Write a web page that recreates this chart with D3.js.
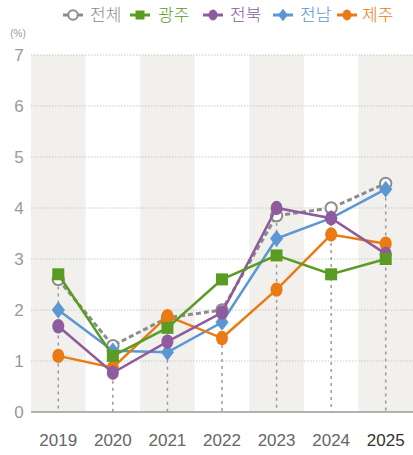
<!DOCTYPE html>
<html><head><meta charset="utf-8">
<script src="https://cdn.jsdelivr.net/npm/d3@7"></script>
<style>body{margin:0;background:#fff}svg{display:block}</style>
</head><body><svg id="c" width="413" height="455"></svg>
<script>
const years = ["2019","2020","2021","2022","2023","2024","2025"];
const yTicks = [0,1,2,3,4,5,6,7];
const seriesNames = ["전체","광주","전북","전남","제주"];
const total   = [2.6, 1.3, 1.85, 2.0, 3.85, 4.0, 4.48];
const gwangju = [2.7, 1.1, 1.65, 2.6, 3.07, 2.7, 3.0];
const jeonbuk = [1.68, 0.77, 1.38, 1.95, 4.0, 3.8, 3.1];
const jeonnam = [2.0, 1.2, 1.17, 1.76, 3.4, 3.8, 4.37];
const jeju    = [1.1, 0.87, 1.88, 1.45, 2.4, 3.48, 3.3];

const colors = ["#8c8c8c","#5a9b24","#8e5b9c","#5b97d3","#ea7b14"];
const shapes = ["open","square","circle","diamond","circle"];
const data = [total,gwangju,jeonbuk,jeonnam,jeju];

(function(){
const svg = d3.select("#c");
const mL = 31, mR = 413, mT = 55, mB = 412;
const x = d3.scaleBand().domain(years).range([mL,mR]).padding(0);
const y = d3.scaleLinear().domain([0,7]).range([mB,mT]);
const cx = d => x(d) + x.bandwidth()/2;
const numFont = "'Liberation Sans Narrow','Liberation Sans',sans-serif";

svg.append("g").selectAll("rect").data(years.filter((d,i)=>i%2===0)).join("rect")
  .attr("x", d=>x(d)).attr("y", mT).attr("width", x.bandwidth()).attr("height", mB-mT)
  .attr("fill","#f1f0ec");

svg.append("g").selectAll("line").data(yTicks.filter(d=>d>0)).join("line")
  .attr("x1",mL).attr("x2",mR).attr("y1",d=>y(d)).attr("y2",d=>y(d))
  .attr("stroke","#c8c8c8").attr("stroke-width",1).attr("stroke-dasharray","1.5,1.5");

svg.append("g").selectAll("text").data(yTicks).join("text")
  .attr("x",19).attr("y",d=>y(d)+6).attr("text-anchor","middle")
  .attr("font-family",numFont).attr("font-size",17).attr("fill","#999").text(d=>d);
svg.append("text").attr("x",18).attr("y",37).attr("text-anchor","middle")
  .attr("font-family",numFont).attr("font-size",10).attr("fill","#999").text("(%)");

svg.append("g").selectAll("line").data(years).join("line")
  .attr("x1",d=>cx(d)).attr("x2",d=>cx(d))
  .attr("y1",(d,i)=>y(total[i])).attr("y2",mB)
  .attr("stroke","#9a9a9a").attr("stroke-width",1.5).attr("stroke-dasharray","3,4");

svg.append("line").attr("x1",mL).attr("x2",mR).attr("y1",mB).attr("y2",mB)
  .attr("stroke","#9a9a9a").attr("stroke-width",1.5);

svg.append("g").selectAll("text").data(years).join("text")
  .attr("x",d=>cx(d)).attr("y",446).attr("text-anchor","middle")
  .attr("font-family",numFont).attr("font-size",17)
  .attr("fill",(d,i)=>i===6?"#333":"#666").text(d=>d);

const line = d3.line().x((d,i)=>cx(years[i])).y(d=>y(d));

function drawMarker(g, shape, color, px, py, s){
  if(shape==="open"){
    g.append("circle").attr("cx",px).attr("cy",py).attr("r",s*0.95).attr("fill","#fff")
     .attr("stroke",color).attr("stroke-width",2);
  } else if(shape==="square"){
    g.append("rect").attr("x",px-s).attr("y",py-s).attr("width",2*s).attr("height",2*s).attr("fill",color);
  } else if(shape==="diamond"){
    g.append("path").attr("d",`M${px},${py-s*1.4}L${px+s*1.1},${py}L${px},${py+s*1.4}L${px-s*1.1},${py}Z`).attr("fill",color);
  } else {
    g.append("ellipse").attr("cx",px).attr("cy",py).attr("rx",s).attr("ry",s*1.2).attr("fill",color);
  }
}

const order = [0,3,4,2,1];
order.forEach(k=>{
  const g = svg.append("g");
  g.append("path").datum(data[k]).attr("d",line).attr("fill","none")
   .attr("stroke",colors[k]).attr("stroke-width",k===0?3:2.5)
   .attr("stroke-dasharray",k===0?"5,3":null);
  data[k].forEach((v,i)=>drawMarker(g,shapes[k],colors[k],cx(years[i]),y(v),6));
});

const legX = [73,140,213,283,347];
const legTextX = [90,158,230,300,362];
seriesNames.forEach((n,k)=>{
  const g = svg.append("g");
  g.append("line").attr("x1",legX[k]-10).attr("x2",legX[k]+10).attr("y1",15).attr("y2",15)
   .attr("stroke",colors[k]).attr("stroke-width",3);
  drawMarker(g,shapes[k],colors[k],legX[k],15,k===0?5:4.5);
  g.append("text").attr("x",legTextX[k]).attr("y",21)
   .attr("font-family","'Noto Sans CJK KR',sans-serif").attr("font-size",17).attr("font-weight",300)
   .attr("fill",colors[k]).text(n);
});
})();
</script></body></html>
